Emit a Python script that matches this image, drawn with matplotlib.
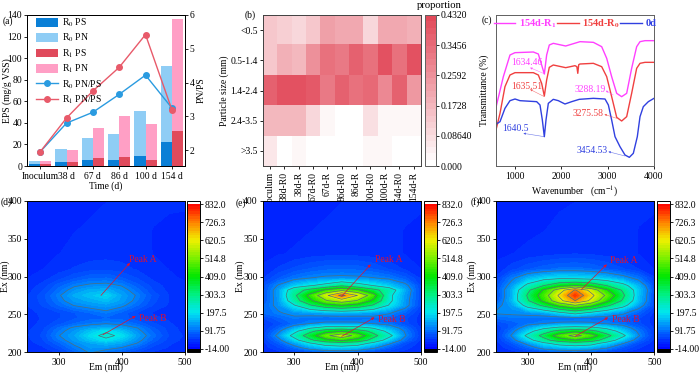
"""EPS bars, particle size heatmap, FTIR spectra and EEM contour panels."""

import matplotlib
matplotlib.use("Agg")
import matplotlib.pyplot as plt
import numpy as np
from matplotlib.colors import LinearSegmentedColormap

plt.rcParams["font.family"] = ["Liberation Serif", "DejaVu Serif"]
plt.rcParams["mathtext.fontset"] = "stix"
plt.rcParams["font.size"] = 6.9
plt.rcParams["axes.linewidth"] = 0.7
plt.rcParams["xtick.major.size"] = 2
plt.rcParams["ytick.major.size"] = 2
plt.rcParams["xtick.major.width"] = 0.6
plt.rcParams["ytick.major.width"] = 0.6
plt.rcParams["xtick.major.pad"] = 2
plt.rcParams["ytick.major.pad"] = 1.5
plt.rcParams["axes.labelpad"] = 1

W, H = 700, 373

# (a) EPS
times = ["Inoculum", "38 d", "67 d", "86 d", "100 d", "154 d"]
r0_ps = [1.5, 4, 6, 6, 9.5, 22]
r0_pn = [3.5, 12, 20, 24, 41.5, 71]
r1_ps = [1.5, 3.5, 7, 8, 6, 32]
r1_pn = [3.5, 11.5, 28, 38, 33, 104]
r0_ratio = [1.95, 2.8, 3.12, 3.65, 4.22, 3.25]
r1_ratio = [1.95, 2.95, 3.75, 4.45, 5.42, 3.2]

# (b) particle size
size_labels = ["<0.5", "0.5-1.4", "1.4-2.4", "2.4-3.5", ">3.5"]
sample_labels = ["Inoculum", "38d-R0", "38d-R", "67d-R0", "67d-R", "86d-R0",
                 "86d-R", "100d-R0", "100d-R", "154d-R0", "154d-R"]
proportion = [
    [.13, .11, .09, .14, .22, .21, .20, .10, .20, .20, .18],
    [.14, .19, .17, .26, .33, .31, .36, .33, .41, .34, .41],
    [.37, .40, .41, .39, .31, .37, .33, .35, .27, .37, .24],
    [.17, .17, .17, .09, .02, 0, 0, .08, .02, .03, .03],
    [.06, .01, .03, .01, 0, 0, 0, .02, .02, 0, .01],
]
prop_ticks = [0, .0864, .1728, .2592, .3456, .432]
prop_tick_labels = ["0.000", "0.08640", "0.1728", "0.2592", "0.3456", "0.4320"]

# (c) FTIR, transmittance in arbitrary units
wn_r1 = [600, 758, 901, 1009, 1403, 1511, 1582, 1640, 1690, 1747, 1833, 2100, 2408, 2695, 2874,
         2982, 3089, 3197, 3304, 3412, 3519, 3627, 3699, 3806, 4000]
t_r1 = [176, 268, 333, 340, 342, 336, 303, 276, 333, 363, 368, 360, 373, 371, 358,
        323, 268, 218, 208, 218, 293, 358, 373, 376, 376]
wn_r0 = [600, 686, 793, 901, 1009, 1403, 1511, 1582, 1640, 1690, 1747, 1833, 2100, 2300, 2340, 2360,
         2380, 2408, 2695, 2874, 2982, 3089, 3197, 3304, 3412, 3519, 3627, 3699, 3806, 4000]
t_r0 = [108, 158, 238, 273, 280, 280, 273, 248, 210, 258, 296, 303, 295, 301, 298, 278,
        304, 306, 308, 298, 268, 208, 146, 135, 148, 218, 293, 308, 311, 311]
wn_0d = [600, 686, 793, 901, 1009, 1116, 1475, 1547, 1597, 1640, 1676, 1726, 1833, 1941, 2084, 2228,
         2392, 2695, 2946, 3018, 3089, 3161, 3268, 3376, 3469, 3555, 3641, 3699, 3770, 3878, 4000]
t_0d = [125, 133, 173, 196, 201, 196, 193, 183, 138, 88, 138, 188, 200, 196, 186, 193,
        200, 203, 201, 183, 138, 88, 58, 33, 26, 38, 88, 148, 178, 193, 203]
peak_labels = ["1634.46", "1635.51", "1640.5", "3288.19", "3275.58", "3454.53"]
peak_colors = ["#ff40ff", "#f04040", "#3040e0", "#ff40ff", "#f04040", "#3040e0"]
peak_text_xy = [(923, 310), (923, 238), (736, 113), (2286, 231), (2250, 158), (2343, 46)]
peak_from = [(1654, 276), (1640, 208), (1640, 88), (3125, 213), (3197, 143), (3376, 30)]
peak_to = [(1332, 295), (1332, 230), (1188, 98), (2960, 226), (2931, 155), (3017, 43)]

# (d-f) EEM
em = [250, 275, 300, 325, 350, 375, 400, 425, 450, 475, 500]
ex = [200, 206, 212, 216, 222, 228, 232, 238, 245, 252, 262, 268, 275, 282, 288, 298, 310, 330, 360, 400]
eem_d = [
    [30, 32, 45, 80, 115, 90, 75, 55, 40, 35, 30],
    [33, 40, 62, 100, 128, 125, 108, 80, 52, 40, 32],
    [36, 48, 80, 118, 140, 155, 140, 108, 65, 45, 35],
    [38, 55, 95, 130, 165, 195, 165, 122, 78, 50, 38],
    [40, 60, 108, 140, 190, 228, 195, 135, 90, 55, 40],
    [40, 56, 98, 128, 165, 200, 165, 120, 80, 52, 36],
    [38, 52, 88, 118, 135, 150, 135, 110, 72, 50, 35],
    [36, 46, 65, 85, 100, 108, 100, 80, 58, 44, 33],
    [35, 44, 55, 68, 78, 82, 78, 60, 46, 40, 32],
    [38, 45, 55, 70, 85, 100, 80, 55, 40, 35, 30],
    [42, 58, 85, 112, 125, 135, 118, 85, 55, 40, 32],
    [42, 62, 98, 130, 145, 160, 135, 98, 60, 42, 32],
    [40, 65, 105, 145, 165, 185, 140, 105, 65, 42, 32],
    [36, 55, 90, 125, 145, 150, 125, 90, 55, 38, 30],
    [33, 48, 78, 105, 118, 122, 108, 75, 50, 36, 30],
    [28, 36, 50, 68, 82, 85, 72, 55, 38, 30, 27],
    [25, 28, 36, 44, 50, 52, 48, 40, 32, 28, 25],
    [22, 24, 28, 32, 35, 36, 35, 32, 28, 26, 24],
    [20, 22, 25, 28, 30, 32, 32, 30, 28, 26, 25],
    [18, 20, 22, 25, 26, 28, 30, 30, 30, 30, 30],
]
eem_e = [
    [30, 36, 48, 62, 75, 78, 72, 56, 44, 36, 30],
    [33, 55, 90, 135, 165, 175, 160, 120, 75, 48, 32],
    [36, 75, 135, 205, 255, 275, 255, 190, 120, 62, 36],
    [40, 95, 180, 290, 380, 425, 375, 275, 170, 90, 40],
    [45, 125, 240, 365, 490, 575, 475, 340, 235, 115, 45],
    [42, 100, 185, 285, 365, 400, 360, 280, 180, 105, 42],
    [38, 80, 140, 205, 250, 260, 248, 205, 145, 90, 40],
    [38, 62, 90, 110, 120, 120, 118, 108, 92, 62, 36],
    [55, 80, 100, 90, 85, 85, 88, 95, 85, 60, 35],
    [85, 105, 125, 135, 145, 155, 145, 135, 115, 80, 38],
    [80, 125, 205, 300, 375, 410, 375, 300, 205, 130, 55],
    [65, 130, 265, 390, 500, 560, 500, 390, 230, 130, 58],
    [60, 135, 290, 440, 590, 740, 610, 455, 230, 135, 60],
    [60, 135, 265, 340, 430, 490, 430, 340, 260, 145, 58],
    [60, 115, 170, 205, 240, 300, 250, 210, 170, 125, 55],
    [40, 70, 95, 110, 118, 120, 118, 112, 100, 75, 40],
    [30, 45, 60, 72, 80, 82, 80, 70, 55, 40, 28],
    [25, 27, 30, 34, 36, 38, 36, 34, 30, 28, 25],
    [22, 23, 25, 28, 30, 32, 33, 32, 30, 28, 26],
    [18, 20, 22, 25, 26, 28, 30, 30, 30, 30, 30],
]
eem_f = [
    [30, 36, 46, 60, 70, 74, 68, 54, 42, 35, 30],
    [33, 50, 85, 130, 155, 165, 150, 115, 70, 44, 32],
    [35, 70, 125, 195, 245, 270, 250, 180, 115, 60, 35],
    [38, 90, 175, 275, 360, 405, 360, 265, 165, 85, 38],
    [42, 115, 230, 340, 460, 545, 460, 340, 230, 115, 42],
    [42, 95, 175, 265, 340, 380, 340, 260, 175, 100, 42],
    [40, 80, 140, 195, 235, 250, 238, 195, 140, 85, 38],
    [55, 75, 95, 110, 118, 120, 116, 105, 90, 60, 36],
    [85, 95, 92, 88, 85, 88, 90, 92, 85, 58, 35],
    [115, 118, 125, 140, 190, 240, 190, 150, 120, 80, 38],
    [95, 135, 240, 330, 440, 510, 440, 330, 240, 135, 60],
    [68, 155, 300, 430, 580, 710, 590, 430, 300, 160, 62],
    [60, 150, 320, 460, 625, 790, 640, 490, 330, 165, 60],
    [65, 150, 290, 420, 560, 720, 580, 420, 300, 170, 65],
    [60, 130, 230, 310, 380, 410, 380, 310, 240, 150, 60],
    [45, 100, 150, 180, 195, 190, 180, 160, 130, 95, 45],
    [32, 50, 68, 80, 88, 90, 85, 72, 58, 42, 28],
    [25, 28, 32, 36, 40, 42, 40, 36, 32, 28, 25],
    [22, 23, 25, 28, 32, 34, 35, 34, 32, 28, 26],
    [18, 20, 22, 25, 26, 28, 30, 30, 30, 30, 30],
]
eem_ticks = [-14, 91.75, 197.5, 303.3, 409, 514.8, 620.5, 726.3, 832]
eem_tick_labels = ["-14.00", "91.75", "197.5", "303.3", "409.0", "514.8", "620.5", "726.3", "832.0"]
line_levels = [110, 210, 310, 410, 510, 610, 710]


def px_axes(fig, left, top, right, bottom):
    """Add axes from pixel edges measured from the top left of the picture."""
    return fig.add_axes([left / W, 1 - bottom / H, (right - left) / W, (bottom - top) / H])


fig = plt.figure(figsize=(W / 100, H / 100), dpi=100)

# panel a
ax = px_axes(fig, 27, 15, 185, 166)
x = np.arange(len(times))
bw = 0.43
ax.bar(x - bw / 2, r0_ps, bw, color="#0a7fd6", label="R$_0$ PS")
ax.bar(x - bw / 2, r0_pn, bw, bottom=r0_ps, color="#8fcdf5", label="R$_0$ PN")
ax.bar(x + bw / 2, r1_ps, bw, color="#e04a5c", label="R$_1$ PS")
ax.bar(x + bw / 2, r1_pn, bw, bottom=r1_ps, color="#ff9fc5", label="R$_1$ PN")
ax.set_xlim(-0.5, 5.5)
ax.set_ylim(0, 140)
ax.set_xticks(x, times)
ax.set_yticks(range(0, 141, 20))
ax.set_xlabel("Time (d)")
ax.set_ylabel("EPS (mg/g VSS)")
ax.yaxis.set_label_coords(-0.095, 0.5)
ax.xaxis.set_label_coords(0.5, -0.099)
ax2 = ax.twinx()
ax2.plot(x, r0_ratio, "-o", color="#2a9be0", lw=1, ms=4, label="R$_0$ PN/PS")
ax2.plot(x, r1_ratio, "-o", color="#e85a6a", lw=1, ms=4, label="R$_1$ PN/PS")
ax2.set_ylim(1.53, 6)
ax2.set_yticks([2, 3, 4, 5, 6])
ax2.set_ylabel("PN/PS", labelpad=1.5)
h1, l1 = ax.get_legend_handles_labels()
h2, l2 = ax2.get_legend_handles_labels()
ax2.legend(h1 + h2, l1 + l2, loc="upper left", bbox_to_anchor=(0.06, 0.99), frameon=False,
           fontsize=6.9, labelspacing=0.3, handlelength=2.2, handleheight=1.05,
           borderpad=0, borderaxespad=0, handletextpad=0.5)

# panel b
ax = px_axes(fig, 262.7, 15, 420.7, 166)
reds = LinearSegmentedColormap.from_list("prop", ["#ffffff", "#e24a5a"], N=24)
im = ax.imshow(proportion, cmap=reds, vmin=0, vmax=0.432, aspect="auto")
ax.set_xticks(range(len(sample_labels)), sample_labels, rotation=90, fontsize=6.9)
ax.set_yticks(range(len(size_labels)), size_labels, fontsize=6.9)
ax.set_ylabel("Particle size (mm)", labelpad=1)
for s in ax.spines.values():
    s.set_color("#404040")
cax = px_axes(fig, 425, 15, 435.7, 166)
cb = fig.colorbar(im, cax=cax)
cb.set_ticks(prop_ticks, labels=prop_tick_labels)
cb.ax.tick_params(labelsize=6.9)
cb.outline.set_edgecolor("#606060")
fig.text(439 / W, 1 - 5 / H, "proportion", ha="center", va="center", fontsize=7.7)

# panel c
ax = px_axes(fig, 496, 15, 654, 166)
ax.plot(wn_r1, t_r1, color="#ff40ff", lw=1, label="154d-R$_\\mathbf{1}$")
ax.plot(wn_r0, t_r0, color="#f04040", lw=1, label="154d-R$_\\mathbf{0}$")
ax.plot(wn_0d, t_0d, color="#3040e0", lw=1, label="0d")
ax.set_xlim(600, 4000)
ax.set_ylim(0, 453)
ax.set_xticks([1000, 2000, 3000, 4000])
ax.set_yticks([])
ax.set_xlabel("Wavenumber   (cm$^{-1}$)")
ax.xaxis.set_label_coords(0.5, -0.12)
ax.set_ylabel("Transmittance (%)", labelpad=5)
for s in ax.spines.values():
    s.set_color("#606060")
ax.legend(loc="upper center", bbox_to_anchor=(0.5, 0.985), ncol=3, frameon=False,
          prop={"weight": "bold", "size": 7.5}, labelcolor="linecolor", handlelength=2.1,
          columnspacing=0.0, handletextpad=0.35, borderpad=0, borderaxespad=0)
for lab, col, txy, p0, p1 in zip(peak_labels, peak_colors, peak_text_xy, peak_from, peak_to):
    ax.text(txy[0], txy[1], lab, color=col, fontsize=6.9, va="center")
    ax.annotate("", xy=p1, xytext=p0,
                arrowprops=dict(arrowstyle="-|>", color=col, lw=0.4, alpha=0.7, mutation_scale=3,
                                shrinkA=0, shrinkB=0))

# panels d, e, f
eem_cmap = LinearSegmentedColormap.from_list("eem", [
    (0, "#0000ff"), (.125, "#006eff"), (.25, "#00e6f0"), (.375, "#00f082"), (.5, "#00e600"),
    (.625, "#78f000"), (.75, "#f0f000"), (.875, "#ff8200"), (1, "#ff0000")])
eem_cmap.set_over("white")
eem_cmap.set_under("black")
fill_levels = np.linspace(-14, 832, 61)

panels = [
    (eem_d, (27, 185, 187, 200), -0.108, (412, 323), (367, 275), (413, 318), (428, 245), (370, 223), (422, 248)),
    (eem_e, (262.7, 420.7, 424, 436.7), -0.112, (427, 323), (375, 274), (421, 316), (433, 243), (375, 221), (427, 246)),
    (eem_f, (496, 654.3, 657.3, 670), -0.123, (430, 321), (385, 283), (425, 316), (433, 243), (375, 221), (427, 246)),
]
for z, pos, lab_x, a_txt, a_from, a_to, b_txt, b_from, b_to in panels:
    ax = px_axes(fig, pos[0], 200.7, pos[1], 352.3)
    cf = ax.contourf(em, ex, z, levels=fill_levels, cmap=eem_cmap, extend="both")
    ax.contour(em, ex, z, levels=line_levels, colors="#4f6f78", linewidths=0.5)
    ax.set_xlim(250, 500)
    ax.set_ylim(200, 400)
    ax.set_xticks([300, 400, 500])
    ax.set_yticks([200, 250, 300, 350, 400])
    ax.set_xlabel("Em (nm)")
    ax.set_ylabel("Ex (nm)")
    ax.xaxis.set_label_coords(0.5, -0.064)
    ax.yaxis.set_label_coords(lab_x, 0.5)
    ax.text(a_txt[0], a_txt[1], "Peak A", color="#e01030", fontsize=6.9, va="center")
    ax.text(b_txt[0], b_txt[1], "Peak B", color="#e01030", fontsize=6.9, va="center")
    for p0, p1 in [(a_from, a_to), (b_from, b_to)]:
        ax.annotate("", xy=p1, xytext=p0,
                    arrowprops=dict(arrowstyle="-|>", color="#e01030", lw=0.5, mutation_scale=4,
                                    shrinkA=0, shrinkB=0))
    cax = px_axes(fig, pos[2], 200.7, pos[3], 352.3)
    cb = fig.colorbar(cf, cax=cax, extend="both", extendrect=True, extendfrac=0.023)
    cb.set_ticks(eem_ticks, labels=eem_tick_labels)
    cb.ax.tick_params(labelsize=6.9, length=2)
    cb.ax.minorticks_off()

for lab, px, py in [("(a)", 8, 21), ("(b)", 250, 15), ("(c)", 487, 20),
                    ("(d)", 6, 202), ("(e)", 241, 203), ("(f)", 475, 202)]:
    fig.text(px / W, 1 - py / H, lab, ha="center", va="center", fontsize=6.9)

fig.savefig("out.png", dpi=100)
